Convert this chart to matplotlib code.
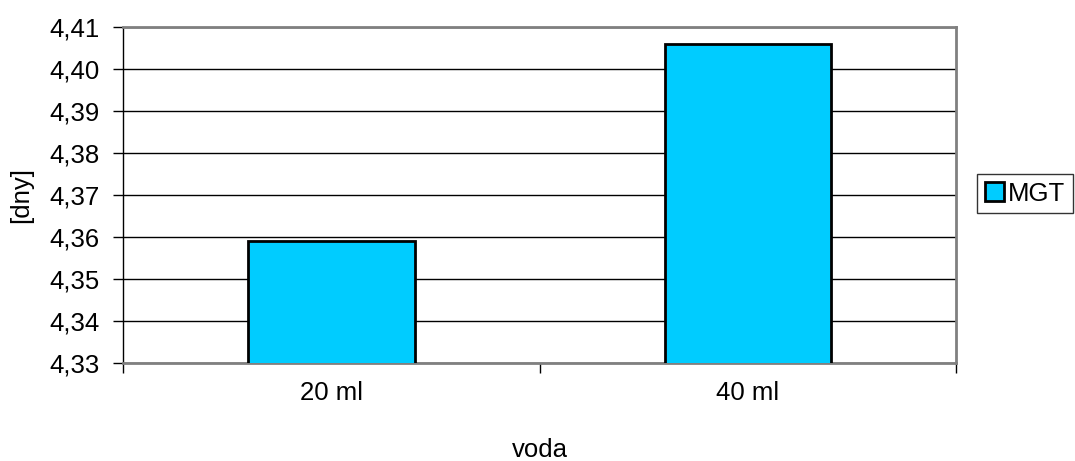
import matplotlib
matplotlib.use("Agg")
import matplotlib.pyplot as plt
from matplotlib.patches import Patch

categories = ["20 ml", "40 ml"]
mgt = [4.359, 4.406]
y_ticks = [4.33, 4.34, 4.35, 4.36, 4.37, 4.38, 4.39, 4.40, 4.41]

plt.rcParams["font.family"] = ["Liberation Sans", "DejaVu Sans"]
FS = 18.5

fig = plt.figure(figsize=(10.75, 4.61), dpi=100)
ax = fig.add_axes([0.1144, 0.2126, 0.775, 0.729])

x = list(range(len(categories)))
ax.bar(x, mgt, width=0.4, color="#00ccff", edgecolor="black", linewidth=2,
       zorder=3, label="MGT")

ax.set_xlim(-0.5, len(categories) - 0.5)
ax.set_ylim(4.33, 4.41)
ax.set_yticks(y_ticks)
ax.set_yticklabels([f"{v:.2f}".replace(".", ",") for v in y_ticks], fontsize=FS)
ax.grid(True, axis="y", color="black", linewidth=1, zorder=0)

# category labels at centres, tick marks at boundaries
ax.set_xticks(x)
ax.set_xticklabels(categories, fontsize=FS)
ax.tick_params(axis="x", which="major", length=0, pad=13)
ax.set_xticks([-0.5, 0.5, 1.5], minor=True)
ax.tick_params(axis="x", which="minor", length=7, width=1, color="black", direction="out")
ax.tick_params(axis="y", length=7, width=1, color="black", direction="out", pad=10)

for side in ["top", "right", "bottom"]:
    ax.spines[side].set_color("#808080")
    ax.spines[side].set_linewidth(2)
ax.spines["left"].set_color("black")
ax.spines["left"].set_linewidth(1)

ax.set_xlabel("voda", fontsize=FS)
ax.xaxis.set_label_coords(0.5, -0.222)
ax.set_ylabel("[dny]", fontsize=FS)
ax.yaxis.set_label_coords(-0.108, 0.5)

handle = Patch(facecolor="#00ccff", edgecolor="black", linewidth=2)
leg = fig.legend([handle], ["MGT"], loc="upper left", bbox_to_anchor=(0.909, 0.623),
                 fontsize=FS, frameon=True, fancybox=False, edgecolor="black",
                 handlelength=0.75, handleheight=0.75, handletextpad=0.15,
                 borderpad=0.3, borderaxespad=0)
leg.get_frame().set_linewidth(1)

fig.savefig("out.png", dpi=100, facecolor="white")
